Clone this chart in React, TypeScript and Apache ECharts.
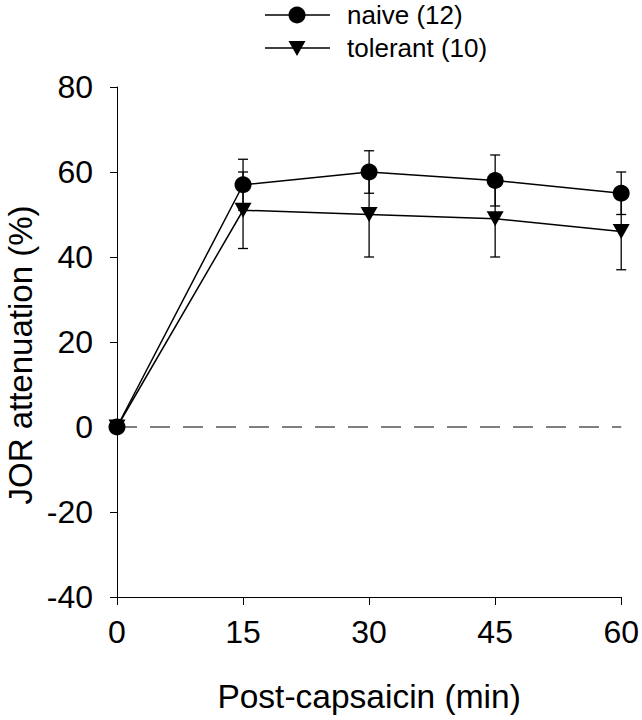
import React, { useEffect, useRef } from "react";
import * as echarts from "echarts";

const times = [0, 15, 30, 45, 60];
const naiveMean = [0, 57, 60, 58, 55];
const naiveErr = [0, 6, 5, 6, 5];
const tolerantMean = [0, 51, 50, 49, 46];
const tolerantErr = [0, 9, 10, 9, 9];
const yTicks = [-40, -20, 0, 20, 40, 60, 80];
const legendNames = ["naive (12)", "tolerant (10)"];
const xTitle = "Post-capsaicin (min)";
const yTitle = "JOR attenuation (%)";

const FONT = "Liberation Sans, Arial, sans-serif";

function errData(mean: number[], err: number[]) {
  return times
    .map((t, i) => [t, mean[i] - err[i], mean[i] + err[i]])
    .filter((d, i) => err[i] > 0);
}

function renderErr(params: any, api: any) {
  const x = api.value(0);
  const lo = api.coord([x, api.value(1)]);
  const hi = api.coord([x, api.value(2)]);
  const cw = 5;
  const style = { stroke: "#000", lineWidth: 1.3 };
  return {
    type: "group",
    children: [
      { type: "line", shape: { x1: lo[0], y1: lo[1], x2: hi[0], y2: hi[1] }, style },
      { type: "line", shape: { x1: lo[0] - cw, y1: lo[1], x2: lo[0] + cw, y2: lo[1] }, style },
      { type: "line", shape: { x1: hi[0] - cw, y1: hi[1], x2: hi[0] + cw, y2: hi[1] }, style },
    ],
  };
}

export default function App() {
  const ref = useRef<HTMLDivElement>(null);
  useEffect(() => {
    document.body.style.margin = "0";
    const chart = echarts.init(ref.current!, null, { renderer: "svg" });
    const lx1 = 265, lx2 = 330, lmx = 297, ly1 = 15, ly2 = 48;
    chart.setOption({
      animation: false,
      backgroundColor: "#fff",
      grid: { left: 117, top: 87, width: 507, height: 510 },
      xAxis: {
        type: "value",
        min: 0,
        max: 60,
        interval: 15,
        name: xTitle,
        nameLocation: "middle",
        nameGap: 82,
        nameTextStyle: { fontFamily: FONT, fontSize: 33.5, color: "#000" },
        axisLine: { onZero: false, lineStyle: { color: "#000", width: 1 } },
        axisTick: { show: true, inside: false, length: 8, lineStyle: { color: "#000" } },
        axisLabel: { fontFamily: FONT, fontSize: 32, color: "#000", margin: 19 },
        splitLine: { show: false },
      },
      yAxis: {
        type: "value",
        min: yTicks[0],
        max: yTicks[yTicks.length - 1],
        interval: 20,
        axisLine: { onZero: false, lineStyle: { color: "#000", width: 1 } },
        axisTick: { show: true, inside: false, length: 7, lineStyle: { color: "#000" } },
        axisLabel: { fontFamily: FONT, fontSize: 32, color: "#000", margin: 24 },
        splitLine: { show: false },
      },
      series: [
        {
          type: "line",
          data: [[0, 0], [60, 0]],
          symbol: "none",
          lineStyle: { color: "#000", width: 1.2, type: [20, 13] },
          z: 1,
          silent: true,
        },
        {
          type: "custom",
          data: errData(naiveMean, naiveErr),
          renderItem: renderErr,
          z: 2,
        },
        {
          type: "custom",
          data: errData(tolerantMean, tolerantErr),
          renderItem: renderErr,
          z: 2,
        },
        {
          name: legendNames[1],
          type: "line",
          data: times.map((t, i) => [t, tolerantMean[i]]),
          symbol: "triangle",
          symbolRotate: 180,
          symbolSize: [17, 15],
          itemStyle: { color: "#000" },
          lineStyle: { color: "#000", width: 1.5 },
          z: 3,
        },
        {
          name: legendNames[0],
          type: "line",
          data: times.map((t, i) => [t, naiveMean[i]]),
          symbol: "circle",
          symbolSize: 17,
          itemStyle: { color: "#000" },
          lineStyle: { color: "#000", width: 1.5 },
          z: 4,
        },
      ],
      graphic: [
        {
          type: "text",
          x: 20,
          y: 355,
          rotation: Math.PI / 2,
          style: { text: yTitle, font: `33px ${FONT}`, fill: "#000", align: "center", verticalAlign: "middle" },
        },
        { type: "line", shape: { x1: lx1, y1: ly1, x2: lx2, y2: ly1 }, style: { stroke: "#000", lineWidth: 1.5 } },
        { type: "circle", shape: { cx: lmx, cy: ly1, r: 8.5 }, style: { fill: "#000" } },
        {
          type: "text",
          x: 347,
          y: ly1,
          style: { text: legendNames[0], font: `26px ${FONT}`, fill: "#000", verticalAlign: "middle", align: "left" },
        },
        { type: "line", shape: { x1: lx1, y1: ly2, x2: lx2, y2: ly2 }, style: { stroke: "#000", lineWidth: 1.5 } },
        {
          type: "polygon",
          shape: { points: [[lmx - 8.5, ly2 - 7], [lmx + 8.5, ly2 - 7], [lmx, ly2 + 8]] },
          style: { fill: "#000" },
        },
        {
          type: "text",
          x: 347,
          y: ly2,
          style: { text: legendNames[1], font: `26px ${FONT}`, fill: "#000", verticalAlign: "middle", align: "left" },
        },
      ],
    });
    return () => chart.dispose();
  }, []);
  return <div ref={ref} style={{ width: 642, height: 720 }} />;
}
